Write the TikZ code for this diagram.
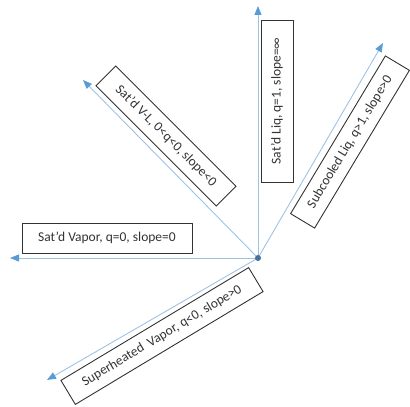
\documentclass[tikz,border=0pt]{standalone}
\usepackage{fontspec}
\setmainfont{Carlito}
\usetikzlibrary{arrows.meta}
\definecolor{linecol}{HTML}{9DC3E6}
\definecolor{tipcol}{HTML}{5B9BD5}
\definecolor{dotcol}{HTML}{41719C}
\definecolor{txtcol}{HTML}{333333}
\tikzset{
  ray/.style={draw=linecol, line width=0.9pt, -{Triangle[length=9pt,width=7pt,fill=tipcol,color=tipcol]}},
  lbl/.style={draw=black!80, line width=0.9pt, fill=white, inner sep=0pt, minimum height=#1, align=center, text=txtcol, font=\fontsize{13.5}{15}\selectfont},
}
\begin{document}
\begin{tikzpicture}[x=1pt,y=1pt]
\useasboundingbox (0,0) rectangle (410,407);
\coordinate (O) at (258,149);
\coordinate (eup) at (258,401);
\coordinate (eleft) at (10,149);
\coordinate (evl) at (83,327);
\coordinate (esub) at (383,364);
\coordinate (esup) at (47,27);
\draw[ray] (O) -- (eup);
\draw[ray] (O) -- (eleft);
\draw[ray] (O) -- (evl);
\draw[ray] (O) -- (esub);
\draw[ray] (O) -- (esup);
\node[lbl=30pt, minimum width=170pt] (vap) at (107,169) {Sat’d Vapor, q=0, slope=0};
\node[lbl=32pt, minimum width=162pt, rotate=90] (liq) at (277,306) {Sat’d Liq, q=1, slope=∞};
\node[lbl=28pt, minimum width=184pt, rotate=59] (sub) at (350,265) {Subcooled Liq, q>1, slope>0};
\node[lbl=28pt, minimum width=170pt, rotate=-45] (vl) at (166,271) {Sat’d V-L, 0<q<0, slope<0};
\node[lbl=28pt, minimum width=219pt, rotate=31] (sup) at (162,71) {Superheated\ \ Vapor, q<0, slope>0};
\fill[dotcol] (O) circle (3pt);
\node[inner sep=0pt, minimum size=6pt] (dot) at (O) {};
\end{tikzpicture}
\end{document}
